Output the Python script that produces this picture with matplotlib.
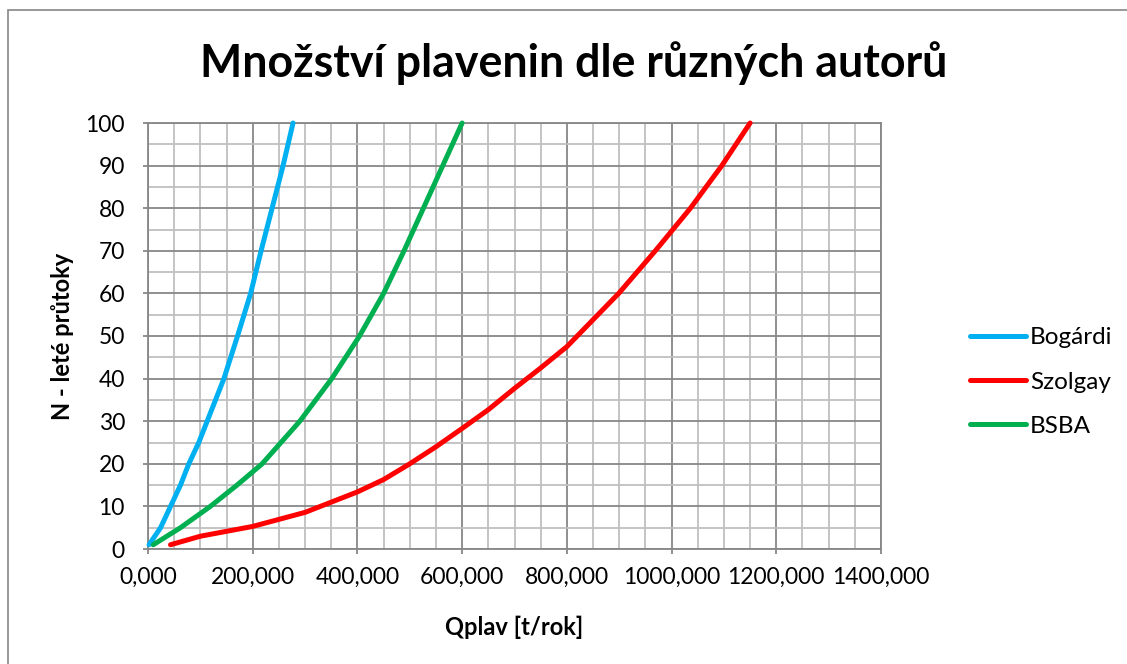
import matplotlib
matplotlib.use("Agg")
import matplotlib.pyplot as plt
from matplotlib.ticker import MultipleLocator, FuncFormatter
from matplotlib.patches import Rectangle

# ---- data ----
bogardi_q = [2, 24, 43, 62, 78, 97, 113, 145, 171, 196, 216, 237, 258, 277]
bogardi_n = [1, 5, 10, 15, 20, 25, 30, 40, 50, 60, 70, 80, 90, 100]

szolgay_q = [43, 100, 200, 300, 400, 450, 500, 550, 600, 650, 700, 750, 800, 899, 969, 1036, 1096, 1150]
szolgay_n = [1, 3, 5.3, 8.6, 13.4, 16.3, 20, 24, 28.3, 32.7, 37.7, 42.5, 47.5, 60, 70, 80, 90, 100]

bsba_q = [10, 62, 119, 170, 218, 290, 351, 404, 450, 489, 526, 563, 600]
bsba_n = [1, 5, 10, 15, 20, 30, 40, 50, 60, 70, 80, 90, 100]

series_names = ["Bogárdi", "Szolgay", "BSBA"]
series_colors = ["#00B0F0", "#FF0000", "#00B050"]

title = "Množství plavenin dle různých autorů"
xlabel = "Qplav [t/rok]"
ylabel = "N - leté průtoky"

plt.rcParams['font.family'] = ['Lato', 'DejaVu Sans']

W, H = 1127, 664
fig = plt.figure(figsize=(W / 100, H / 100), dpi=100)
fig.patch.set_facecolor("white")

# outer chart border
fig.add_artist(Rectangle((8 / W, -0.1), 1.2, 1 - 10 / H + 0.1, transform=fig.transFigure,
                         fill=False, edgecolor="#868686", linewidth=1.2))

ax = fig.add_axes([148 / W, (H - 549) / H, 733 / W, 426 / H])
ax.set_xlim(0, 1400)
ax.set_ylim(0, 100)

ax.xaxis.set_major_locator(MultipleLocator(200))
ax.xaxis.set_minor_locator(MultipleLocator(50))
ax.yaxis.set_major_locator(MultipleLocator(10))
ax.yaxis.set_minor_locator(MultipleLocator(5))
ax.xaxis.set_major_formatter(FuncFormatter(lambda v, p: f"{v:.3f}".replace(".", ",")))
ax.yaxis.set_major_formatter(FuncFormatter(lambda v, p: f"{v:.0f}"))

ax.grid(which="minor", color="#BFBFBF", linewidth=1.3, zorder=0)
ax.grid(which="major", color="#878787", linewidth=1.3, zorder=0)
ax.set_axisbelow(True)
for s in ax.spines.values():
    s.set_color("#878787")
    s.set_linewidth(1.3)

ax.tick_params(which="major", direction="out", length=3.6, color="#878787", width=1.3,
               labelsize=16.5, labelcolor="black")
ax.tick_params(axis="y", which="major", pad=13)
ax.tick_params(axis="x", which="major", pad=9)
ax.tick_params(which="minor", length=0)

lines = []
for q, n, name, c in zip([bogardi_q, szolgay_q, bsba_q], [bogardi_n, szolgay_n, bsba_n],
                         series_names, series_colors):
    ln, = ax.plot(q, n, color=c, linewidth=3.6, label=name, solid_capstyle="round",
                  solid_joinstyle="round", zorder=3, clip_on=False)
    lines.append(ln)

fig.text(514 / W, 1 - 627 / H, xlabel, fontsize=17, fontweight="bold", ha="center", va="center")
fig.text(62 / W, 1 - 336 / H, ylabel, fontsize=17, fontweight="bold", ha="center", va="center",
         rotation=90)

fig.text(574 / W, 1 - 63 / H, title, fontsize=32.2, fontweight="bold", ha="center", va="center")

fig.legend(handles=lines, loc="center left", bbox_to_anchor=(970 / W, 1 - 382 / H),
           frameon=False, fontsize=17.5, handlelength=2.3, handletextpad=0.16,
           labelspacing=0.95, borderpad=0, borderaxespad=0)

fig.savefig("out.png", dpi=100, facecolor="white")
